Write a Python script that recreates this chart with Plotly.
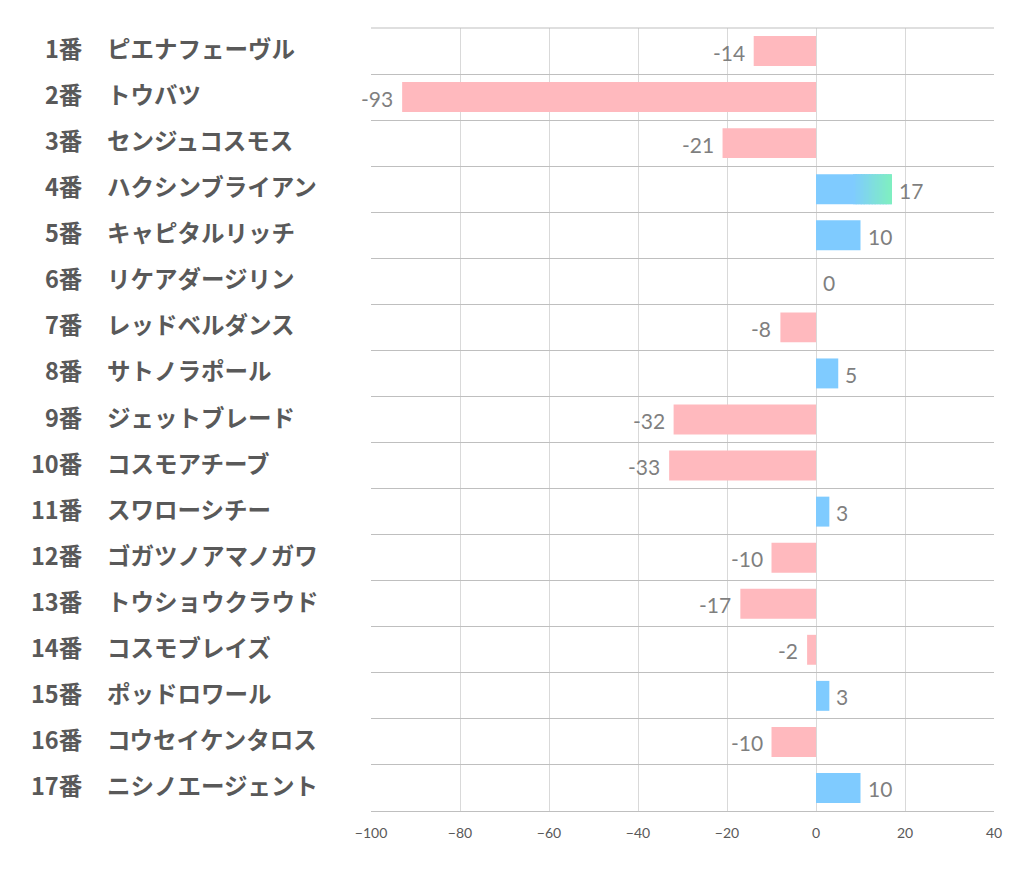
import plotly.graph_objects as go

numbers = ["1番", "2番", "3番", "4番", "5番", "6番", "7番", "8番", "9番", "10番",
           "11番", "12番", "13番", "14番", "15番", "16番", "17番"]
names = ["ピエナフェーヴル", "トウバツ", "センジュコスモス", "ハクシンブライアン",
         "キャピタルリッチ", "リケアダージリン", "レッドベルダンス", "サトノラポール",
         "ジェットブレード", "コスモアチーブ", "スワローシチー", "ゴガツノアマノガワ",
         "トウショウクラウド", "コスモブレイズ", "ポッドロワール", "コウセイケンタロス",
         "ニシノエージェント"]
values = [-14, -93, -21, 17, 10, 0, -8, 5, -32, -33, 3, -10, -17, -2, 3, -10, 10]
highlight_index = 3  # bar drawn with a gradient

PINK = "#FFB9BE"
BLUE = "#7FCBFF"
GREEN = "#7FEFC0"

# page body adds an 8px margin around the figure
W, H = 1006, 871
L, R, T, B = 363, 18, 20, 68
plot_w = W - L - R

cats = [f"{n} {m}" for n, m in zip(numbers, names)]
colors = [PINK if v < 0 else BLUE for v in values]

fig = go.Figure()
fig.add_trace(go.Bar(
    y=cats, x=values, orientation="h",
    marker=dict(color=colors, line=dict(width=0)),
    hoverinfo="skip",
))

# gradient overlay for highlighted bar
def hex2rgb(h):
    h = h.lstrip("#")
    return [int(h[i:i + 2], 16) for i in (0, 2, 4)]

c0, c1 = hex2rgb(BLUE), hex2rgb(GREEN)
v = values[highlight_index]
n_seg = 24
start = 0.5
bases, widths, segcols = [], [], []
for i in range(n_seg):
    f0 = start + (1 - start) * i / n_seg
    f1 = start + (1 - start) * (i + 1) / n_seg
    t = (i + 0.5) / n_seg
    rgb = [round(a + (b - a) * t) for a, b in zip(c0, c1)]
    bases.append(v * f0)
    widths.append(v * (f1 - f0) * 1.02 if i < n_seg - 1 else v * (f1 - f0))
    segcols.append(f"rgb({rgb[0]},{rgb[1]},{rgb[2]})")
fig.add_trace(go.Bar(
    y=[cats[highlight_index]] * n_seg, x=widths, base=bases, orientation="h",
    marker=dict(color=segcols, line=dict(width=0)), hoverinfo="skip",
))

# value labels
for c, val in zip(cats, values):
    neg = val < 0
    fig.add_annotation(x=val, y=c, xref="x", yref="y", text=str(val),
                       showarrow=False, xanchor="right" if neg else "left",
                       xshift=-7 if neg else 5, yshift=-1,
                       font=dict(family="Lato, Open Sans, sans-serif", size=21,
                                 color="#7f7f7f"))

# row labels
for c, num, name in zip(cats, numbers, names):
    fig.add_annotation(x=(84 - 8 - L) / plot_w, y=c, xref="paper", yref="y",
                       text=f"<b>{num}</b>", showarrow=False, xanchor="right",
                       yshift=3,
                       font=dict(family="Noto Sans CJK JP", size=23.5, color="#595959"))
    fig.add_annotation(x=(104 - 8 - L) / plot_w, y=c, xref="paper", yref="y",
                       text=f"<b>{name}</b>", showarrow=False, xanchor="left",
                       yshift=3,
                       font=dict(family="Noto Sans CJK JP", size=23.5, color="#595959"))

fig.update_layout(
    width=W, height=H, margin=dict(l=L, r=R, t=T, b=B),
    paper_bgcolor="white", plot_bgcolor="white",
    barmode="overlay", bargap=0.35, showlegend=False,
    xaxis=dict(range=[-100, 40], dtick=20, tick0=0, showgrid=True,
               gridcolor="#d9d9d9", gridwidth=1, zeroline=False,
               showline=True, linecolor="#bfbfbf", mirror=False,
               ticks="", tickfont=dict(family="Lato, sans-serif", size=14, color="#595959"),
               ticklabelstandoff=9, fixedrange=True),
    yaxis=dict(type="category", autorange="reversed", tickson="boundaries",
               showgrid=True, gridcolor="#bfbfbf", gridwidth=1,
               showticklabels=False, ticks="", showline=False, zeroline=False,
               fixedrange=True),
)
fig.add_shape(type="line", xref="paper", yref="paper", x0=0, x1=1, y0=1, y1=1,
              line=dict(color="#bfbfbf", width=1))

fig.write_html("out.html")
